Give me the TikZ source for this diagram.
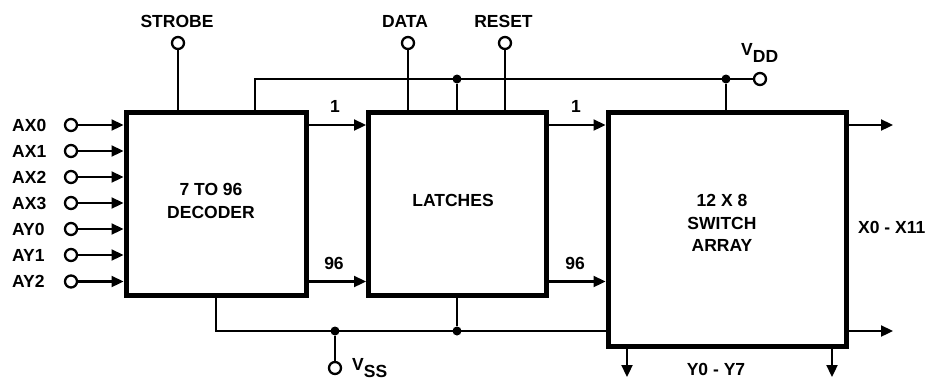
\documentclass[tikz,border=0pt]{standalone}
\usepackage{fontspec}
\setmainfont{Liberation Sans}
\usetikzlibrary{arrows.meta}
\begin{document}
\begin{tikzpicture}[x=1pt,y=-1pt,
  wire/.style={line width=2.3pt},
  sig/.style={wire,-{Triangle[length=12pt,width=11pt]}},
  blk/.style={draw,line width=5pt,inner sep=0pt},
  pin/.style={circle,draw,line width=2.3pt,minimum size=12pt,inner sep=0pt,fill=white},
  jdot/.style={circle,fill,minimum size=9pt,inner sep=0pt},
  lbl/.style={font=\fontsize{17.5}{22.5}\selectfont\bfseries,inner sep=0pt,align=center}
]
\useasboundingbox (0,0) rectangle (930,381);

% blocks
\node[blk,minimum width=180pt,minimum height=183pt] (dec) at (216,203.5) {};
\node[blk,minimum width=178pt,minimum height=183pt] (lat) at (457.5,203.5) {};
\node[blk,minimum width=238pt,minimum height=234pt] (sw) at (727,229) {};
\node[lbl] (dect) at (211,201) {7 TO 96\\DECODER};
\node[lbl] (latt) at (453,200) {LATCHES};
\node[lbl] (swt) at (722,223) {12 X 8\\SWITCH\\ARRAY};

% inputs
\foreach \n/\t/\y in {0/AX0/125,1/AX1/151,2/AX2/177,3/AX3/203,4/AY0/229,5/AY1/255,6/AY2/281.5}{
  \node[lbl,anchor=west] (l\n) at (12,\y) {\t};
  \node[pin] (p\n) at (71,\y) {};
  \draw[sig] (p\n.east) -- (p\n.east -| dec.west);
}

% top pins
\node[lbl] (strobel) at (177,21) {STROBE};
\node[pin] (strobe) at (178,43) {};
\node[lbl] (datal) at (405,21) {DATA};
\node[pin] (data) at (408,43) {};
\node[lbl] (resetl) at (503.5,21) {RESET};
\node[pin] (reset) at (505,43) {};
\node[pin] (vdd) at (760,79) {};
\node[lbl,anchor=base west] (vddl) at (741,55) {V\raisebox{-7.5pt}{DD}};

\draw[wire] (strobe.south) -- (strobe.south |- dec.north);
\draw[wire] (data.south) -- (data.south |- lat.north);
\draw[wire] (reset.south) -- (reset.south |- lat.north);

% VDD rail
\coordinate (vt) at (255,79);
\node[jdot] (d1) at (457,79) {};
\node[jdot] (d2) at (726,79) {};
\draw[wire] (vt |- dec.north) -- (vt) -- (vdd.west);
\draw[wire] (d1) -- (d1 |- lat.north);
\draw[wire] (d2) -- (d2 |- sw.north);

% VSS rail
\coordinate (vb) at (216,331);
\node[jdot] (d3) at (335,331) {};
\node[jdot] (d4) at (457,331) {};
\node[pin] (vss) at (335,368) {};
\node[lbl,anchor=base west] (vssl) at (352,370) {V\raisebox{-7pt}{SS}};
\draw[wire] (vb |- dec.south) -- (vb) -- (vb -| sw.west);
\draw[wire] (d4) -- (d4 |- lat.south);
\draw[wire] (d3) -- (vss.north);

% inter-block buses
\coordinate (r1) at (0,125);
\coordinate (r2) at (0,281.5);
\draw[sig] (r1 -| dec.east) -- (r1 -| lat.west);
\draw[sig] (r2 -| dec.east) -- (r2 -| lat.west);
\draw[sig] (r1 -| lat.east) -- (r1 -| sw.west);
\draw[sig] (r2 -| lat.east) -- (r2 -| sw.west);
\node[lbl] (n1a) at (335,106) {1};
\node[lbl] (n2a) at (334,263) {96};
\node[lbl] (n1b) at (576,106) {1};
\node[lbl] (n2b) at (575,263) {96};

% outputs
\coordinate (xo1) at (893,125);
\coordinate (xo2) at (893,331);
\draw[sig] (xo1 -| sw.east) -- (xo1);
\draw[sig] (xo2 -| sw.east) -- (xo2);
\node[lbl,anchor=west] (xl) at (858,227) {X0 - X11};
\coordinate (yo1) at (627,377);
\coordinate (yo2) at (832,377);
\draw[sig] (yo1 |- sw.south) -- (yo1);
\draw[sig] (yo2 |- sw.south) -- (yo2);
\node[lbl] (yl) at (716,369) {Y0 - Y7};
\end{tikzpicture}
\end{document}
